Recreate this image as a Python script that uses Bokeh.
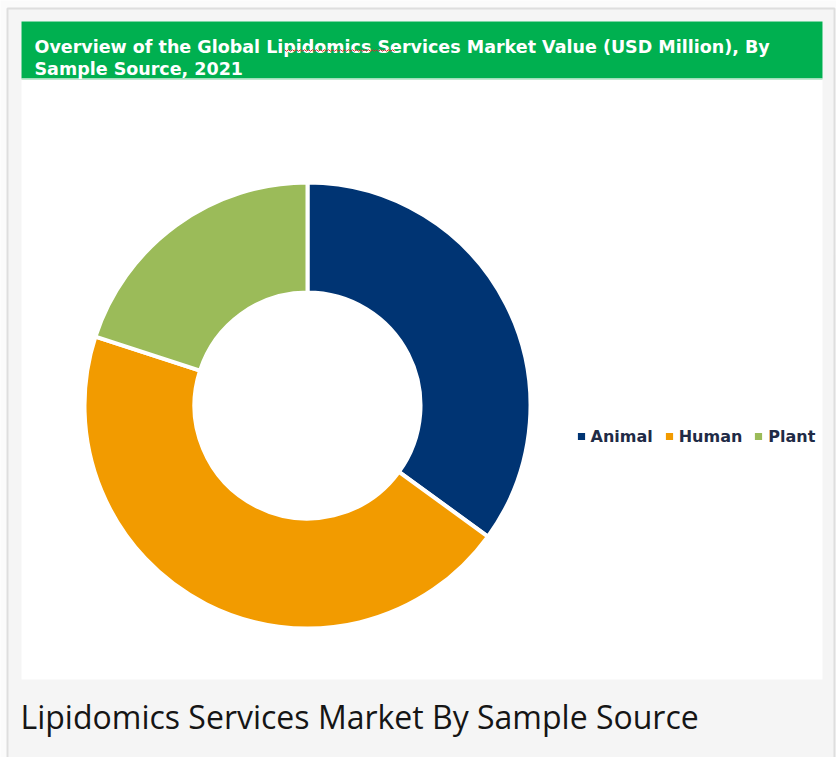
import numpy as np
from bokeh.plotting import figure
from bokeh.models import Range1d, Legend, LegendItem
from bokeh.core.properties import value
from bokeh.embed import file_html
from bokeh.resources import INLINE

# ---- data ----
categories = ["Animal", "Human", "Plant"]
shares = [35, 45, 20]
colors = ["#003473", "#F29B00", "#9BBB59"]
title_lines = ["Overview of the Global Lipidomics Services Market Value (USD Million), By",
               "Sample Source, 2021"]
caption = "Lipidomics Services Market By Sample Source"

W, H = 836, 757

def Y(top):
    return H - top

p = figure(width=W, height=H, output_backend="svg", toolbar_location=None,
           x_range=Range1d(0, W), y_range=Range1d(0, H), min_border=0)
p.xaxis.visible = False
p.yaxis.visible = False
p.grid.visible = False
p.background_fill_color = "#fbfbfb"
p.border_fill_color = "#fbfbfb"
p.outline_line_color = None

# outer grey card
p.quad(left=[7], right=[834], top=[Y(8)], bottom=[Y(770)],
       fill_color="#f5f5f5", line_color="#dedede", line_width=2)
# white chart panel
p.quad(left=[21], right=[822], top=[Y(21)], bottom=[Y(679)],
       fill_color="white", line_color=None)
# green title bar
p.quad(left=[21], right=[822], top=[Y(21)], bottom=[Y(78)],
       fill_color="#00B050", line_color=None)
p.quad(left=[21], right=[822], top=[Y(78)], bottom=[Y(79.5)],
       fill_color="#bfe8cf", line_color=None)

p.text(x=[34, 34], y=[Y(46), Y(68)], text=title_lines,
       text_font=value("DejaVu Sans"), text_font_style="bold",
       text_font_size="17.5px", text_color="white", text_baseline="alphabetic")

# spell-check squiggle under "Lipidomics"
sx = np.linspace(284, 394, 56)
sy = Y(50) + np.where(np.arange(56) % 2 == 0, 0.8, -0.8)
p.line(sx, sy, line_color="#d03030", line_width=1)

# donut
vals = np.array(shares, dtype=float)
frac = vals / vals.sum()
ends = np.pi / 2 - 2 * np.pi * np.cumsum(frac)
starts = np.concatenate([[np.pi / 2], ends[:-1]])
cx, cy = 307, Y(405)
wedges = p.annular_wedge(x=cx, y=cy, inner_radius=113, outer_radius=223,
                         start_angle=ends, end_angle=starts, direction="anticlock",
                         fill_color=colors, line_color="white", line_width=4)

# legend (square swatches taken from the wedge renderer)
items = [LegendItem(label=lab, renderers=[wedges], index=i)
         for i, lab in enumerate(categories)]
leg = Legend(items=items, orientation="horizontal", location=(573.5, Y(436) - 10),
             glyph_width=14, glyph_height=14, label_standoff=3, spacing=9,
             padding=0, margin=0, border_line_color=None, background_fill_alpha=0,
             label_text_font="DejaVu Sans", label_text_font_style="bold",
             label_text_font_size="16px", label_text_color="#1f2b46",
             label_height=20)
p.add_layout(leg)

# caption
p.text(x=[20], y=[Y(716)], text=[caption], text_font=value("Open Sans"),
       text_font_size="32px", text_color="#151515", text_baseline="alphabetic")

open("out.html", "w").write(file_html(p, INLINE))
